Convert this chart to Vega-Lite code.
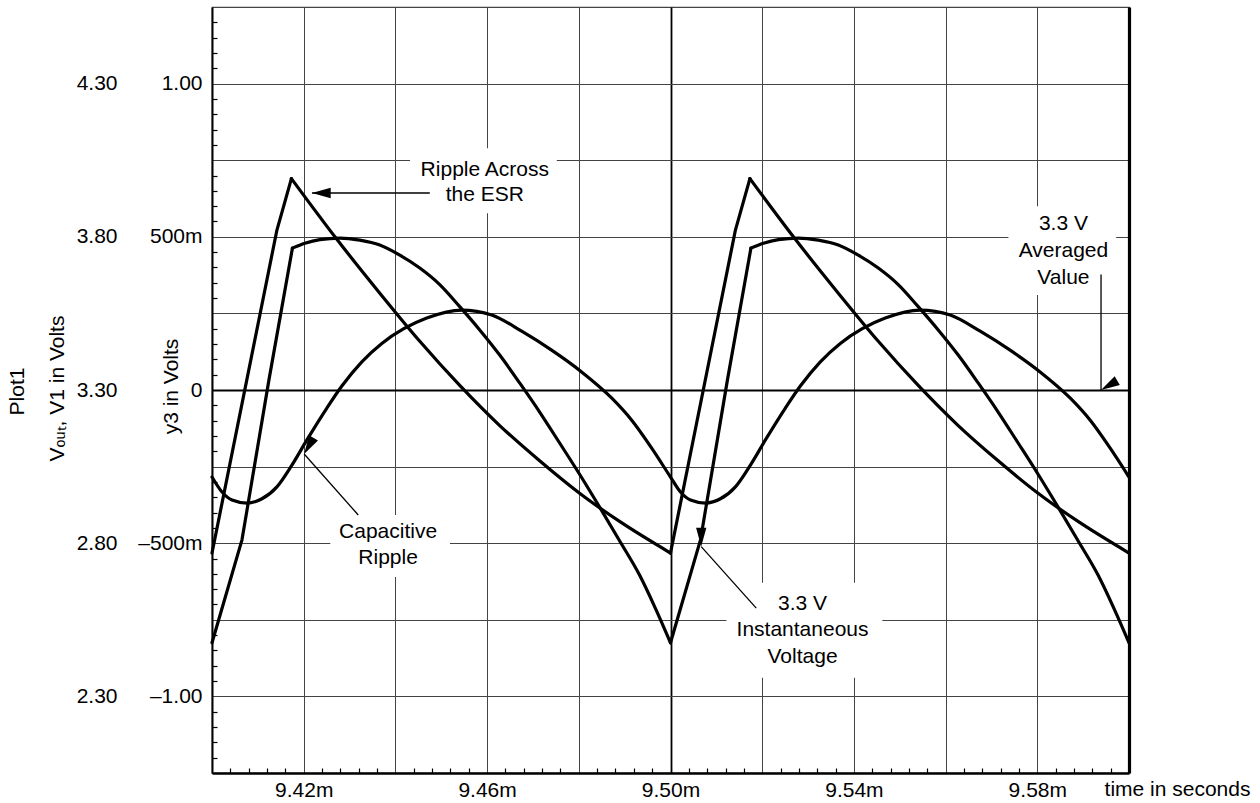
{
  "$schema": "https://vega.github.io/schema/vega-lite/v6.json",
  "width": 917,
  "height": 766,
  "autosize": {"type": "none"},
  "padding": {"left": 212, "top": 7, "right": 131, "bottom": 30},
  "background": "white",
  "config": {
    "view": {"stroke": "#444", "strokeWidth": 1.2},
    "font": "Liberation Sans",
    "axis": {"labelFont": "Liberation Sans", "titleFont": "Liberation Sans", "labelFontSize": 21, "titleFontSize": 21, "labelColor": "black", "titleColor": "black", "titleFontWeight": "normal"}
  },
  "datasets": {
    "curves": [
      {"seg": "cap", "part": "smooth", "t": 9.4, "v": -0.284}, {"seg": "cap", "part": "smooth", "t": 9.40218, "v": -0.333}, {"seg": "cap", "part": "smooth", "t": 9.40436, "v": -0.359}, {"seg": "cap", "part": "smooth", "t": 9.40763, "v": -0.369}, {"seg": "cap", "part": "smooth", "t": 9.41089, "v": -0.355}, {"seg": "cap", "part": "smooth", "t": 9.41416, "v": -0.316}, {"seg": "cap", "part": "smooth", "t": 9.41743, "v": -0.245}, {"seg": "cap", "part": "smooth", "t": 9.4207, "v": -0.163}, {"seg": "cap", "part": "smooth", "t": 9.42505, "v": -0.059}, {"seg": "cap", "part": "smooth", "t": 9.42832, "v": 0.013}, {"seg": "cap", "part": "smooth", "t": 9.43268, "v": 0.092}, {"seg": "cap", "part": "smooth", "t": 9.43704, "v": 0.152}, {"seg": "cap", "part": "smooth", "t": 9.44183, "v": 0.2}, {"seg": "cap", "part": "smooth", "t": 9.44684, "v": 0.235}, {"seg": "cap", "part": "smooth", "t": 9.45447, "v": 0.261}, {"seg": "cap", "part": "smooth", "t": 9.461, "v": 0.245}, {"seg": "cap", "part": "smooth", "t": 9.46754, "v": 0.192}, {"seg": "cap", "part": "smooth", "t": 9.47407, "v": 0.13}, {"seg": "cap", "part": "smooth", "t": 9.48061, "v": 0.059}, {"seg": "cap", "part": "smooth", "t": 9.48715, "v": -0.026}, {"seg": "cap", "part": "smooth", "t": 9.4915, "v": -0.098}, {"seg": "cap", "part": "smooth", "t": 9.49586, "v": -0.189},
      {"seg": "cap", "part": "smooth", "t": 9.5, "v": -0.284}, {"seg": "cap", "part": "smooth", "t": 9.50218, "v": -0.333}, {"seg": "cap", "part": "smooth", "t": 9.50436, "v": -0.359}, {"seg": "cap", "part": "smooth", "t": 9.50763, "v": -0.369}, {"seg": "cap", "part": "smooth", "t": 9.51089, "v": -0.355}, {"seg": "cap", "part": "smooth", "t": 9.51416, "v": -0.316}, {"seg": "cap", "part": "smooth", "t": 9.51743, "v": -0.245}, {"seg": "cap", "part": "smooth", "t": 9.5207, "v": -0.163}, {"seg": "cap", "part": "smooth", "t": 9.52505, "v": -0.059}, {"seg": "cap", "part": "smooth", "t": 9.52832, "v": 0.013}, {"seg": "cap", "part": "smooth", "t": 9.53268, "v": 0.092}, {"seg": "cap", "part": "smooth", "t": 9.53704, "v": 0.152}, {"seg": "cap", "part": "smooth", "t": 9.54183, "v": 0.2}, {"seg": "cap", "part": "smooth", "t": 9.54684, "v": 0.235}, {"seg": "cap", "part": "smooth", "t": 9.55447, "v": 0.261}, {"seg": "cap", "part": "smooth", "t": 9.561, "v": 0.245}, {"seg": "cap", "part": "smooth", "t": 9.56754, "v": 0.192}, {"seg": "cap", "part": "smooth", "t": 9.57407, "v": 0.13}, {"seg": "cap", "part": "smooth", "t": 9.58061, "v": 0.059}, {"seg": "cap", "part": "smooth", "t": 9.58715, "v": -0.026}, {"seg": "cap", "part": "smooth", "t": 9.5915, "v": -0.098}, {"seg": "cap", "part": "smooth", "t": 9.59586, "v": -0.189}, {"seg": "cap", "part": "smooth", "t": 9.6, "v": -0.284},

      {"seg": "esr_r1", "part": "rise", "t": 9.4, "v": -0.532}, {"seg": "esr_r1", "part": "rise", "t": 9.41416, "v": 0.522}, {"seg": "esr_r1", "part": "rise", "t": 9.41732, "v": 0.69},
      {"seg": "esr_f1", "part": "smooth", "t": 9.41732, "v": 0.69}, {"seg": "esr_f1", "part": "smooth", "t": 9.42702, "v": 0.496}, {"seg": "esr_f1", "part": "smooth", "t": 9.4366, "v": 0.316}, {"seg": "esr_f1", "part": "smooth", "t": 9.44532, "v": 0.159}, {"seg": "esr_f1", "part": "smooth", "t": 9.45403, "v": 0.015}, {"seg": "esr_f1", "part": "smooth", "t": 9.46275, "v": -0.116}, {"seg": "esr_f1", "part": "smooth", "t": 9.47146, "v": -0.231}, {"seg": "esr_f1", "part": "smooth", "t": 9.48017, "v": -0.337}, {"seg": "esr_f1", "part": "smooth", "t": 9.48889, "v": -0.429}, {"seg": "esr_f1", "part": "smooth", "t": 9.5, "v": -0.532},
      {"seg": "esr_r2", "part": "rise", "t": 9.5, "v": -0.532}, {"seg": "esr_r2", "part": "rise", "t": 9.51416, "v": 0.522}, {"seg": "esr_r2", "part": "rise", "t": 9.51732, "v": 0.69},
      {"seg": "esr_f2", "part": "smooth", "t": 9.51732, "v": 0.69}, {"seg": "esr_f2", "part": "smooth", "t": 9.52702, "v": 0.496}, {"seg": "esr_f2", "part": "smooth", "t": 9.5366, "v": 0.316}, {"seg": "esr_f2", "part": "smooth", "t": 9.54532, "v": 0.159}, {"seg": "esr_f2", "part": "smooth", "t": 9.55403, "v": 0.015}, {"seg": "esr_f2", "part": "smooth", "t": 9.56275, "v": -0.116}, {"seg": "esr_f2", "part": "smooth", "t": 9.57146, "v": -0.231}, {"seg": "esr_f2", "part": "smooth", "t": 9.58017, "v": -0.337}, {"seg": "esr_f2", "part": "smooth", "t": 9.58889, "v": -0.429}, {"seg": "esr_f2", "part": "smooth", "t": 9.6, "v": -0.532},

      {"seg": "inst_r1", "part": "rise", "t": 9.4, "v": -0.825}, {"seg": "inst_r1", "part": "rise", "t": 9.40654, "v": -0.489}, {"seg": "inst_r1", "part": "rise", "t": 9.41242, "v": 0.033}, {"seg": "inst_r1", "part": "rise", "t": 9.41754, "v": 0.463},
      {"seg": "inst_f1", "part": "smooth", "t": 9.41754, "v": 0.463}, {"seg": "inst_f1", "part": "smooth", "t": 9.42026, "v": 0.479}, {"seg": "inst_f1", "part": "smooth", "t": 9.42353, "v": 0.491}, {"seg": "inst_f1", "part": "smooth", "t": 9.42789, "v": 0.496}, {"seg": "inst_f1", "part": "smooth", "t": 9.43224, "v": 0.489}, {"seg": "inst_f1", "part": "smooth", "t": 9.4366, "v": 0.473}, {"seg": "inst_f1", "part": "smooth", "t": 9.44096, "v": 0.44}, {"seg": "inst_f1", "part": "smooth", "t": 9.44532, "v": 0.398}, {"seg": "inst_f1", "part": "smooth", "t": 9.44967, "v": 0.344}, {"seg": "inst_f1", "part": "smooth", "t": 9.45403, "v": 0.272}, {"seg": "inst_f1", "part": "smooth", "t": 9.45839, "v": 0.196}, {"seg": "inst_f1", "part": "smooth", "t": 9.46275, "v": 0.114}, {"seg": "inst_f1", "part": "smooth", "t": 9.4671, "v": 0.023}, {"seg": "inst_f1", "part": "smooth", "t": 9.47146, "v": -0.072}, {"seg": "inst_f1", "part": "smooth", "t": 9.47582, "v": -0.173}, {"seg": "inst_f1", "part": "smooth", "t": 9.48017, "v": -0.275}, {"seg": "inst_f1", "part": "smooth", "t": 9.48453, "v": -0.382}, {"seg": "inst_f1", "part": "smooth", "t": 9.48889, "v": -0.492}, {"seg": "inst_f1", "part": "smooth", "t": 9.49325, "v": -0.604}, {"seg": "inst_f1", "part": "smooth", "t": 9.49651, "v": -0.706}, {"seg": "inst_f1", "part": "smooth", "t": 9.5, "v": -0.825},
      {"seg": "inst_r2", "part": "rise", "t": 9.5, "v": -0.825}, {"seg": "inst_r2", "part": "rise", "t": 9.50654, "v": -0.489}, {"seg": "inst_r2", "part": "rise", "t": 9.51242, "v": 0.033}, {"seg": "inst_r2", "part": "rise", "t": 9.51754, "v": 0.463},
      {"seg": "inst_f2", "part": "smooth", "t": 9.51754, "v": 0.463}, {"seg": "inst_f2", "part": "smooth", "t": 9.52026, "v": 0.479}, {"seg": "inst_f2", "part": "smooth", "t": 9.52353, "v": 0.491}, {"seg": "inst_f2", "part": "smooth", "t": 9.52789, "v": 0.496}, {"seg": "inst_f2", "part": "smooth", "t": 9.53224, "v": 0.489}, {"seg": "inst_f2", "part": "smooth", "t": 9.5366, "v": 0.473}, {"seg": "inst_f2", "part": "smooth", "t": 9.54096, "v": 0.44}, {"seg": "inst_f2", "part": "smooth", "t": 9.54532, "v": 0.398}, {"seg": "inst_f2", "part": "smooth", "t": 9.54967, "v": 0.344}, {"seg": "inst_f2", "part": "smooth", "t": 9.55403, "v": 0.272}, {"seg": "inst_f2", "part": "smooth", "t": 9.55839, "v": 0.196}, {"seg": "inst_f2", "part": "smooth", "t": 9.56275, "v": 0.114}, {"seg": "inst_f2", "part": "smooth", "t": 9.5671, "v": 0.023}, {"seg": "inst_f2", "part": "smooth", "t": 9.57146, "v": -0.072}, {"seg": "inst_f2", "part": "smooth", "t": 9.57582, "v": -0.173}, {"seg": "inst_f2", "part": "smooth", "t": 9.58017, "v": -0.275}, {"seg": "inst_f2", "part": "smooth", "t": 9.58453, "v": -0.382}, {"seg": "inst_f2", "part": "smooth", "t": 9.58889, "v": -0.492}, {"seg": "inst_f2", "part": "smooth", "t": 9.59325, "v": -0.604}, {"seg": "inst_f2", "part": "smooth", "t": 9.59651, "v": -0.706}, {"seg": "inst_f2", "part": "smooth", "t": 9.6, "v": -0.825}
    ],
    "boxes": [
      {"name": "esr", "t1": 9.4432, "t2": 9.4752, "v1": 0.789, "v2": 0.577},
      {"name": "avg", "t1": 9.5737, "t2": 9.5972, "v1": 0.6, "v2": 0.31},
      {"name": "cap", "t1": 9.4258, "t2": 9.4519, "v1": -0.408, "v2": -0.61},
      {"name": "inst", "t1": 9.5122, "t2": 9.5462, "v1": -0.629, "v2": -0.939}
    ],
    "arrows": [
      {"arrow": "esr", "t1": 9.4475, "v1": 0.643, "t2": 9.4218, "v2": 0.643},
      {"arrow": "avg", "t1": 9.5939, "v1": 0.377, "t2": 9.5939, "v2": 0.0},
      {"arrow": "cap", "t1": 9.4319, "v1": -0.408, "t2": 9.4201, "v2": -0.209},
      {"arrow": "inst", "t1": 9.5187, "v1": -0.712, "t2": 9.5067, "v2": -0.511}
    ],
    "labels": [
      {"label": "Ripple Across", "t": 9.4595, "v": 0.717},
      {"label": "the ESR", "t": 9.4595, "v": 0.636},
      {"label": "3.3 V", "t": 9.5857, "v": 0.541},
      {"label": "Averaged", "t": 9.5857, "v": 0.453},
      {"label": "Value", "t": 9.5857, "v": 0.365},
      {"label": "Capacitive", "t": 9.4384, "v": -0.463},
      {"label": "Ripple", "t": 9.4384, "v": -0.548},
      {"label": "3.3 V", "t": 9.5288, "v": -0.698},
      {"label": "Instantaneous", "t": 9.5288, "v": -0.783},
      {"label": "Voltage", "t": 9.5288, "v": -0.871}
    ]
  },
  "resolve": {"scale": {"x": "independent", "y": "independent"}},
  "layer": [
    {
      "data": {"name": "curves"},
      "transform": [{"filter": "datum.part == 'smooth'"}],
      "mark": {"type": "line", "interpolate": "monotone", "color": "black", "strokeWidth": 3.2, "strokeCap": "round", "strokeJoin": "round"},
      "encoding": {
        "detail": {"field": "seg"},
        "x": {
          "field": "t", "type": "quantitative",
          "scale": {"domain": [9.4, 9.6], "nice": false, "zero": false},
          "axis": {
            "orient": "bottom",
            "values": [9.42, 9.44, 9.46, 9.48, 9.5, 9.52, 9.54, 9.56, 9.58],
            "labelExpr": "(datum.value == 9.42 || datum.value == 9.46 || datum.value == 9.5 || datum.value == 9.54 || datum.value == 9.58) ? format(datum.value, '.2f') + 'm' : ''",
            "ticks": false, "tickSize": 0, "labelPadding": 6, "labelOverlap": false, "labelFlush": false,
            "domainColor": "black", "domainWidth": 2.5,
            "grid": true,
            "gridColor": {"condition": {"test": "datum.value == 9.5", "value": "black"}, "value": "#444"},
            "gridWidth": {"condition": {"test": "datum.value == 9.5", "value": 1.8}, "value": 1},
            "title": "time in seconds", "titleX": 965, "titleY": 16, "titleAlign": "center", "titleBaseline": "middle", "titleAngle": 0
          }
        },
        "y": {
          "field": "v", "type": "quantitative",
          "scale": {"domain": [-1.25, 1.25], "nice": false, "zero": false},
          "axis": {
            "orient": "left",
            "values": [-1, -0.75, -0.5, -0.25, 0, 0.25, 0.5, 0.75, 1],
            "labelExpr": "datum.value == 1 ? '1.00' : datum.value == 0.5 ? '500m' : datum.value == 0 ? '0' : datum.value == -0.5 ? '–500m' : datum.value == -1 ? '–1.00' : ''",
            "ticks": false, "tickSize": 0, "labelPadding": 10, "labelOverlap": false, "labelFlush": false,
            "domainColor": "black", "domainWidth": 2,
            "grid": true,
            "gridColor": {"condition": {"test": "datum.value == 0", "value": "black"}, "value": "#444"},
            "gridWidth": {"condition": {"test": "datum.value == 0", "value": 1.8}, "value": 1},
            "title": "y3 in Volts", "titleX": -41, "titleY": 379, "titleAngle": 270, "titleAlign": "center", "titleBaseline": "middle"
          }
        }
      }
    },
    {
      "data": {"name": "curves"},
      "transform": [{"filter": "datum.part == 'rise'"}],
      "mark": {"type": "line", "color": "black", "strokeWidth": 3.2, "strokeCap": "round", "strokeJoin": "round"},
      "encoding": {
        "detail": {"field": "seg"},
        "x": {
          "field": "t", "type": "quantitative",
          "scale": {"domain": [9.4, 9.6], "nice": false, "zero": false},
          "axis": {
            "orient": "bottom",
            "values": [9.404, 9.408, 9.412, 9.416, 9.424, 9.428, 9.432, 9.436, 9.444, 9.448, 9.452, 9.456, 9.464, 9.468, 9.472, 9.476, 9.484, 9.488, 9.492, 9.496, 9.504, 9.508, 9.512, 9.516, 9.524, 9.528, 9.532, 9.536, 9.544, 9.548, 9.552, 9.556, 9.564, 9.568, 9.572, 9.576, 9.584, 9.588, 9.592, 9.596],
            "labels": false, "domain": false, "grid": false, "ticks": true, "tickSize": -5, "tickColor": "black", "tickWidth": 1.2, "title": null
          }
        },
        "y": {
          "field": "v", "type": "quantitative",
          "scale": {"domain": [-1.25, 1.25], "nice": false, "zero": false},
          "axis": {
            "orient": "left",
            "values": [-1.2, -1.15, -1.1, -1.05, -0.95, -0.9, -0.85, -0.8, -0.7, -0.65, -0.6, -0.55, -0.45, -0.4, -0.35, -0.3, -0.2, -0.15, -0.1, -0.05, 0.05, 0.1, 0.15, 0.2, 0.3, 0.35, 0.4, 0.45, 0.55, 0.6, 0.65, 0.7, 0.8, 0.85, 0.9, 0.95, 1.05, 1.1, 1.15, 1.2],
            "labels": false, "domain": false, "grid": false, "ticks": true, "tickSize": -5, "tickColor": "black", "tickWidth": 1.2, "title": null
          }
        }
      }
    },
    {
      "data": {"name": "boxes"},
      "mark": {"type": "rect", "fill": "white", "stroke": null},
      "encoding": {
        "x": {"field": "t1", "type": "quantitative", "scale": {"domain": [9.4, 9.6], "nice": false, "zero": false}, "axis": null},
        "x2": {"field": "t2"},
        "y": {
          "field": "v1", "type": "quantitative",
          "scale": {"domain": [-1.25, 1.25], "nice": false, "zero": false},
          "axis": {
            "orient": "left", "offset": 85,
            "values": [-1, -0.5, 0, 0.5, 1],
            "labelExpr": "format(datum.value + 3.3, '.2f')",
            "ticks": false, "tickSize": 0, "labelPadding": 10, "domain": false, "grid": false, "labelOverlap": false, "labelFlush": false,
            "title": "Vₒᵤₜ, V1 in Volts", "titleX": -70, "titleY": 381, "titleAngle": 270, "titleAlign": "center", "titleBaseline": "middle"
          }
        },
        "y2": {"field": "v2"}
      }
    },
    {
      "data": {"name": "arrows"},
      "mark": {"type": "rule", "color": "black", "strokeWidth": 1.3},
      "encoding": {
        "x": {"field": "t1", "type": "quantitative", "scale": {"domain": [9.4, 9.6], "nice": false, "zero": false}, "axis": null},
        "x2": {"field": "t2"},
        "y": {
          "field": "v1", "type": "quantitative",
          "scale": {"domain": [-1.25, 1.25], "nice": false, "zero": false},
          "axis": {"orient": "right", "labels": false, "ticks": false, "grid": false, "domain": true, "domainColor": "black", "domainWidth": 3.2, "title": null}
        },
        "y2": {"field": "v2"}
      }
    },
    {
      "data": {"name": "arrows"},
      "mark": {"type": "point", "shape": "M0,0L0.55,2L-0.55,2Z", "filled": true, "color": "black", "size": 350, "opacity": 1},
      "encoding": {
        "x": {"field": "t2", "type": "quantitative", "scale": {"domain": [9.4, 9.6], "nice": false, "zero": false}, "axis": null},
        "y": {
          "field": "v2", "type": "quantitative",
          "scale": {"domain": [-1.25, 1.25], "nice": false, "zero": false},
          "axis": {"orient": "left", "labels": false, "ticks": false, "grid": false, "domain": false, "title": "Plot1", "titleX": -195, "titleY": 384, "titleAngle": 270, "titleAlign": "center", "titleBaseline": "middle"}
        },
        "angle": {"field": "arrow", "type": "nominal", "scale": {"domain": ["esr", "avg", "cap", "inst"], "range": [270, 180, 318, 318]}, "legend": null}
      }
    },
    {
      "data": {"name": "labels"},
      "mark": {"type": "text", "font": "Liberation Sans", "fontSize": 21, "align": "center", "baseline": "middle", "color": "black"},
      "encoding": {
        "x": {"field": "t", "type": "quantitative", "scale": {"domain": [9.4, 9.6], "nice": false, "zero": false}, "axis": null},
        "y": {"field": "v", "type": "quantitative", "scale": {"domain": [-1.25, 1.25], "nice": false, "zero": false}, "axis": null},
        "text": {"field": "label"}
      }
    }
  ]
}
